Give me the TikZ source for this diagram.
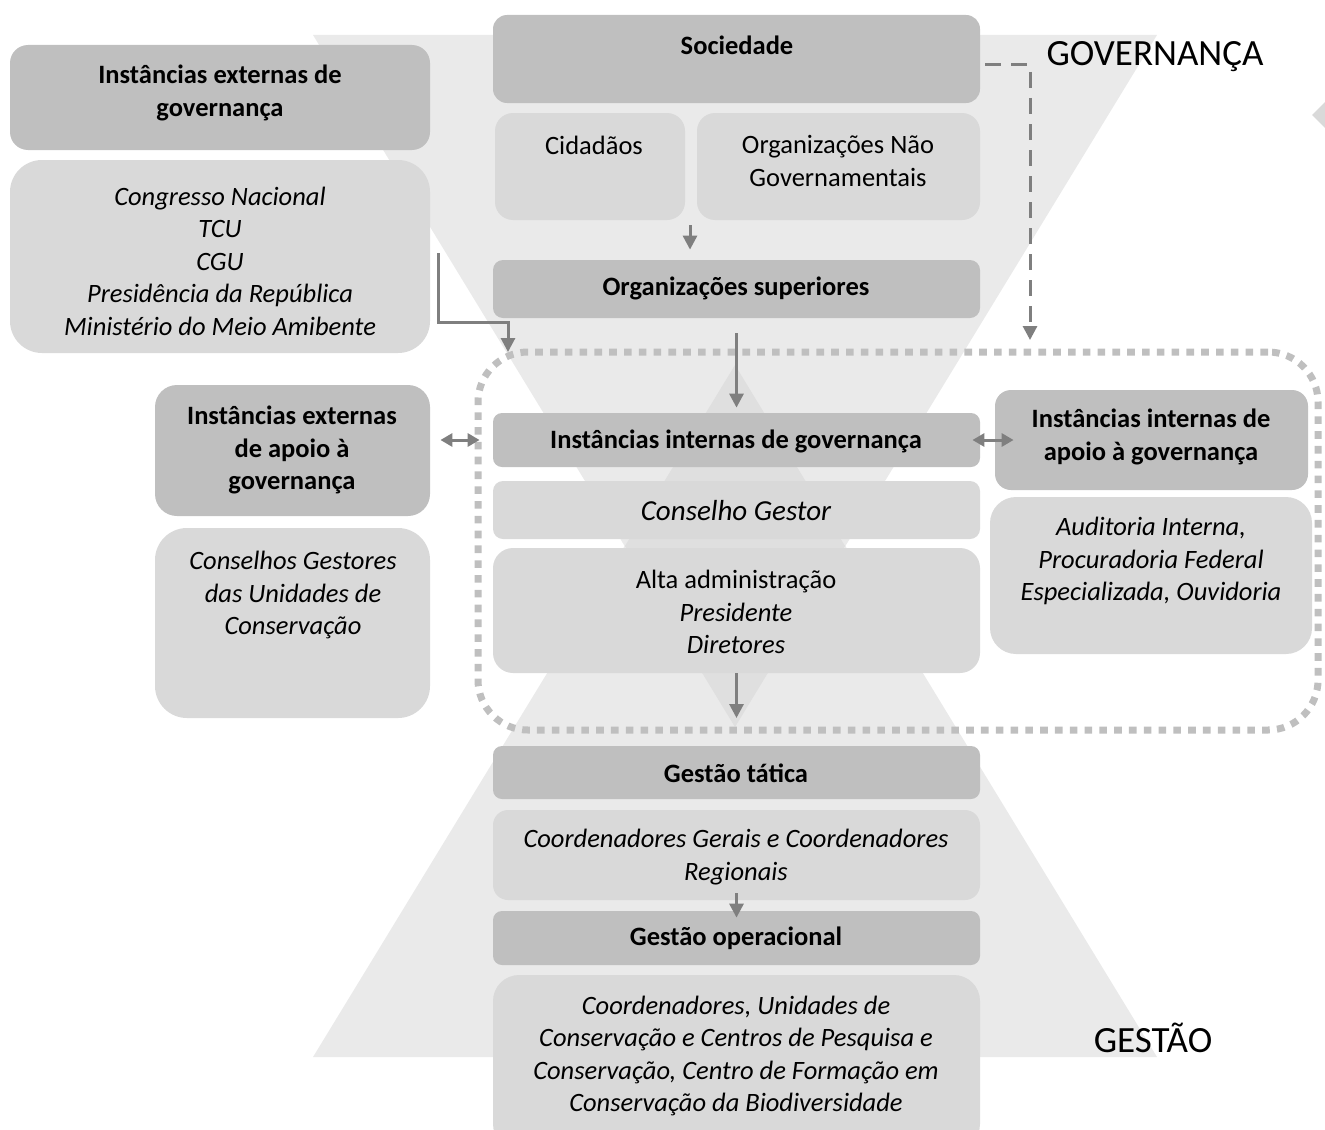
\documentclass[tikz,border=0pt]{standalone}
\usepackage{fontspec}
\setmainfont{Carlito}
\usetikzlibrary{arrows.meta,fit}
\definecolor{bgtri}{HTML}{EAEAEA}
\definecolor{bgover}{HTML}{DFDFDF}
\definecolor{boxdark}{HTML}{BFBFBF}
\definecolor{boxlight}{HTML}{D9D9D9}
\definecolor{arrgray}{HTML}{7F7F7F}
\definecolor{dotgray}{HTML}{BFBFBF}
\newcommand{\gbox}[7]{\node[#1, rounded corners=#7, fit={(#3,#4) (#5,#6)}] (#2) {};}
\begin{document}
\begin{tikzpicture}[x=0.5pt,y=-0.5pt,
  dk/.style={fill=boxdark, inner sep=0pt, draw=none},
  lt/.style={fill=boxlight, inner sep=0pt, draw=none},
  txt/.style={align=center, inner sep=0pt, font=\fontsize{13.25pt}{16.25pt}\selectfont},
  big/.style={inner sep=0pt, font=\fontsize{18.5pt}{22pt}\selectfont},
  arr/.style={draw=arrgray, line width=1.5pt, -{Triangle[width=7pt,length=7pt]}},
  dbl/.style={draw=arrgray, line width=1.5pt, {Triangle[width=6.5pt,length=6pt]}-{Triangle[width=6.5pt,length=6pt]}},
  darr/.style={draw=arrgray, line width=1.5pt, dash pattern=on 8pt off 5pt, -{Triangle[width=7pt,length=7pt]}},
  dotline/.style={draw=dotgray, line width=3.5pt, dash pattern=on 3.8pt off 3.6pt, inner sep=0pt, rounded corners=25pt}
]
\useasboundingbox (0,0) rectangle (1325,1129);
% background hourglass
\fill[bgtri] (313,35) -- (1157,35) -- (735,727) -- cycle;
\fill[bgtri] (313,1057) -- (1157,1057) -- (735,365) -- cycle;
\fill[bgover] (735,365) -- (625,546) -- (735,727) -- (845,546) -- cycle;
\fill[boxlight] (1312,115) -- (1340,87) -- (1340,143) -- cycle;
% dotted frame
\node[dotline, fit={(478,352) (1318,730)}] (frame) {};
% boxes
\gbox{dk}{soc}{493}{15}{980}{103}{7pt}
\gbox{lt}{cid}{495}{113}{685}{220}{9pt}
\gbox{lt}{ong}{697}{113}{980}{220}{9pt}
\gbox{dk}{osup}{493}{260}{980}{318}{5pt}
\gbox{dk}{ieg}{10}{45}{430}{150}{9pt}
\gbox{lt}{cong}{10}{160}{430}{353}{16pt}
\gbox{dk}{iig}{493}{413}{980}{467}{4.5pt}
\gbox{dk}{iiag}{995}{390}{1308}{490}{8pt}
\gbox{lt}{aud}{990}{497}{1312}{654}{13pt}
\gbox{dk}{ieag}{155}{385}{430}{516}{11pt}
\gbox{lt}{cgu}{155}{528}{430}{718}{16pt}
\gbox{lt}{cg}{493}{481}{980}{539}{5pt}
\gbox{lt}{alta}{493}{548}{980}{673}{10pt}
\gbox{dk}{gt}{493}{746}{980}{799}{4.5pt}
\gbox{lt}{cgr}{493}{810}{980}{900}{7.5pt}
\gbox{dk}{gop}{493}{911}{980}{965}{4.5pt}
\gbox{lt}{cun}{493}{975}{980}{1150}{13pt}
% texts
\node[txt] (t-soc) at (737,45) {\bfseries Sociedade};
\node[txt] (t-cid) at (594,145) {Cidadãos};
\node[txt] (t-ong) at (838,161) {Organizações Não\\Governamentais};
\node[txt] (t-osup) at (736,288) {\bfseries Organizações superiores};
\node[txt] (t-ieg) at (220,93) {\bfseries Instâncias externas de\\\bfseries governança};
\node[txt] (t-cong) at (220,261) {\itshape Congresso Nacional\\\itshape TCU\\\itshape CGU\\\itshape Presidência da República\\\itshape Ministério do Meio Amibente};
\node[big] (t-gov) at (1155,57) {GOVERNANÇA};
\node[txt] (t-iig) at (736,441) {\bfseries Instâncias internas de governança};
\node[txt] (t-iiag) at (1151,437) {\bfseries Instâncias internas de\\\bfseries apoio à governança};
\node[txt] (t-aud) at (1151,561) {\itshape Auditoria Interna,\\\itshape Procuradoria Federal\\\itshape Especializada, Ouvidoria};
\node[txt] (t-ieag) at (292,450) {\bfseries Instâncias externas\\\bfseries de apoio à\\\bfseries governança};
\node[txt] (t-cgu) at (293,595) {\itshape Conselhos Gestores\\\itshape das Unidades de\\\itshape Conservação};
\node[txt, font=\fontsize{14.5pt}{17pt}\selectfont] (t-cg) at (736,511) {\itshape Conselho Gestor};
\node[txt] (t-alta) at (736,612) {Alta administração\\\itshape Presidente\\\itshape Diretores};
\node[txt] (t-gt) at (736,773) {\bfseries Gestão tática};
\node[txt] (t-cgr) at (736,857) {\itshape Coordenadores Gerais e Coordenadores\\\itshape Regionais};
\node[txt] (t-gop) at (736,938) {\bfseries Gestão operacional};
\node[txt] (t-cun) at (736,1056) {\itshape Coordenadores, Unidades de\\\itshape Conservação e Centros de Pesquisa e\\\itshape Conservação, Centro de Formação em\\\itshape Conservação da Biodiversidade};
\node[big] (t-ges) at (1153,1038) {GESTÃO};
% connectors
\coordinate (a1s) at (690,225);
\draw[arr, shorten >=5pt] (a1s) -- (a1s |- osup.north);
\draw[arr, shorten <=7.5pt, shorten >=2.5pt] (osup.south) -- (iig.north);
\coordinate (altaend) at (736.5,718);
\draw[arr] (alta.south) -- (altaend);
\draw[arr, shorten <=-3.5pt, shorten >=-3.5pt] (cgr.south) -- (gop.north);
\coordinate (lc1) at (438,253);
\coordinate (lc2) at (438,322);
\coordinate (lc3) at (508,322);
\coordinate (lcend) at (508,352);
\draw[arr, rounded corners=0pt] (lc1) -- (lc2) -- (lc3) -- (lcend);
\coordinate (dA) at (985,65);
\coordinate (dB) at (1030,65);
\coordinate (dC) at (1030,340);
\draw[darr] (dA) -- (dB) -- (dC);
\draw[dbl, shorten <=5pt, shorten >=6.5pt] (ieag.east |- iig.west) -- (iig.west);
\draw[dbl, shorten <=-4pt, shorten >=-9.5pt] (iig.east) -- (iiag.west);
\end{tikzpicture}
\end{document}
